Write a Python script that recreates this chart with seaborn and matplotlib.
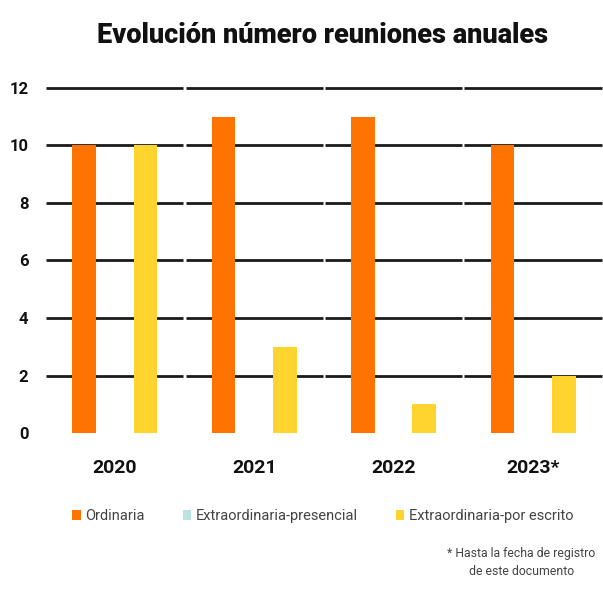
import matplotlib.pyplot as plt
import pandas as pd
import seaborn as sns

# --- data ---
years = ["2020", "2021", "2022", "2023*"]
ordinaria = [10, 11, 11, 10]
extra_presencial = [0, 0, 0, 0]
extra_escrito = [10, 3, 1, 2]
tipos = ["Ordinaria", "Extraordinaria-presencial", "Extraordinaria-por escrito"]
colores = ["#FF7300", "#B9E3E0", "#FFD42E"]

df = pd.DataFrame({
    "Año": years * 3,
    "Tipo": [tipos[0]] * 4 + [tipos[1]] * 4 + [tipos[2]] * 4,
    "Reuniones": ordinaria + extra_presencial + extra_escrito,
})

sns.set_style("white")
plt.rcParams["font.family"] = ["Roboto", "DejaVu Sans"]

fig = plt.figure(figsize=(6.03, 5.9), dpi=100)
ax = fig.add_axes([0.0746, 0.266, 0.925, 0.585])

sns.barplot(data=df, x="Año", y="Reuniones", hue="Tipo", hue_order=tipos,
            palette=colores, width=0.66, gap=0.23, saturation=1, ax=ax,
            legend=True, zorder=3, linewidth=0)

# gridlines, broken at category boundaries
for y in range(2, 13, 2):
    for i in range(len(years)):
        ax.hlines(y, i - 0.5 + 0.008, i + 0.5 - 0.008, color="#1a1a1a",
                  lw=2, zorder=1, clip_on=False)

ax.set_xlim(-0.5, 3.5)
ax.set_ylim(0, 12)
ax.set_yticks(range(0, 13, 2))
for s in ax.spines.values():
    s.set_visible(False)
ax.tick_params(axis="y", length=0, pad=12, labelsize=12)
ax.tick_params(axis="x", length=0, pad=19, labelsize=14)
for lbl in ax.get_yticklabels() + ax.get_xticklabels():
    lbl.set_fontweight("bold")
    lbl.set_color("#111111")
ax.set_xlabel("")
ax.set_ylabel("")

handles, labels = ax.get_legend_handles_labels()
ax.legend_.remove()
fig.legend(handles, labels, loc="center", bbox_to_anchor=(0.535, 0.125),
           ncol=3, frameon=False, fontsize=10.5, handlelength=0.6,
           handleheight=0.6, handletextpad=0.3, columnspacing=2.6,
           labelcolor="#444444")

fig.text(0.535, 0.94, "Evolución número reuniones anuales", ha="center",
         va="center", fontsize=19.5, fontweight="black", color="#111111")
fig.text(0.865, 0.046, "* Hasta la fecha de registro\nde este documento",
         ha="center", va="center", fontsize=8.8, color="#444444",
         linespacing=1.5)

fig.savefig("out.png", dpi=100)
